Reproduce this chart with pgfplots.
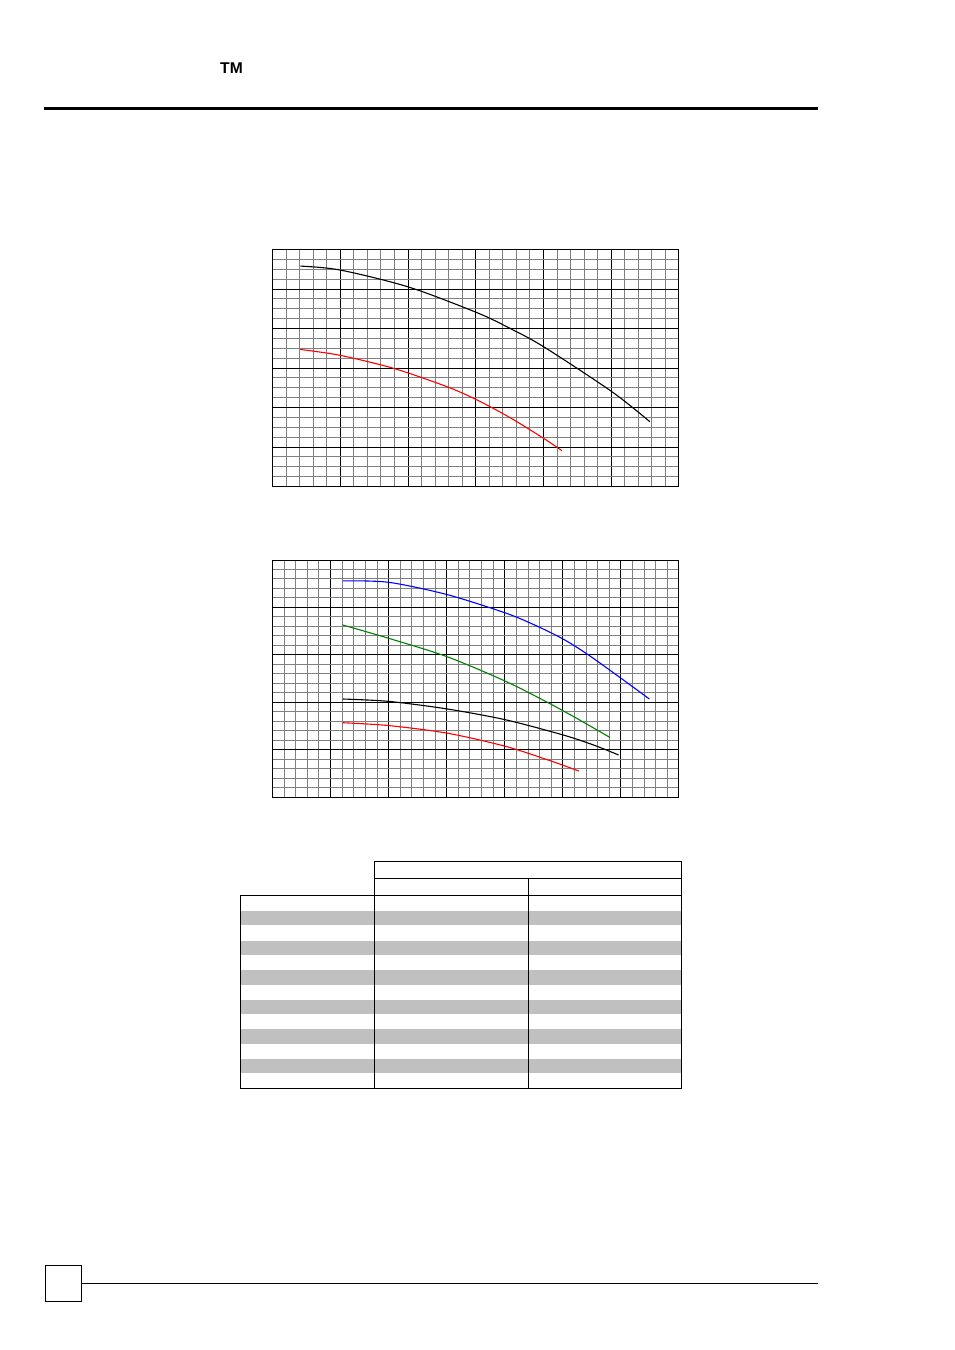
\documentclass[border=0pt]{standalone}
\usepackage{pgfplots}
\pgfplotsset{compat=1.18}
\usepackage{fontspec}
\setmainfont{Liberation Sans}

\definecolor{gridgray}{RGB}{128,128,128}
\definecolor{stripe}{RGB}{192,192,192}
\definecolor{cgreen}{RGB}{0,128,0}

\pgfplotsset{
  gridchart/.style={
    scale only axis,
    anchor=north west,
    axis line style={black, line width=0.5pt},
    xticklabels={}, yticklabels={},
    major tick length=0pt, minor tick length=0pt,
    grid=both,
    major grid style={black, line width=0.5pt},
    minor grid style={gridgray, line width=0.5pt},
    clip=true,
  },
  curve/.style={line width=0.55pt, smooth, no markers},
}

\begin{document}
\begin{tikzpicture}[x=0.5pt,y=0.5pt]
% page
\fill[white] (0,0) rectangle (954,-1350);

% header
\node[font=\fontsize{7.8}{9}\selectfont\bfseries, inner sep=0pt] at (231.5,-68) {TM};
\draw[line width=1.5pt] (44,-108) -- (818,-108);

% chart 1
\begin{axis}[gridchart,
  at={(136.25pt,-124.75pt)},
  width=203.25pt, height=118.5pt,
  xmin=0, xmax=6, ymin=0, ymax=6,
  xtick={0,...,6}, ytick={0,...,6},
  minor x tick num=4, minor y tick num=3]
\addplot[curve, black] coordinates {
  (0.41,5.58) (1.00,5.48) (2.01,5.05) (3.02,4.40) (3.51,4.00)
  (4.01,3.53) (5.01,2.40) (5.57,1.64)};
\addplot[curve, red] coordinates {
  (0.41,3.47) (1.00,3.32) (1.79,2.99) (2.57,2.53) (3.02,2.19)
  (3.51,1.74) (4.01,1.21) (4.27,0.91)};
\end{axis}

% chart 2
\begin{axis}[gridchart,
  at={(136.25pt,-280pt)},
  width=203.25pt, height=118.6pt,
  xmin=0, xmax=7, ymin=0, ymax=5,
  xtick={0,...,7}, ytick={0,...,5},
  minor x tick num=4, minor y tick num=4]
\addplot[curve, blue] coordinates {
  (1.21,4.56) (2.00,4.53) (3.01,4.27) (4.02,3.88) (4.55,3.61)
  (5.01,3.33) (5.44,3.00) (6.01,2.50) (6.49,2.07)};
\addplot[curve, cgreen] coordinates {
  (1.21,3.63) (2.00,3.35) (3.01,2.96) (4.02,2.44) (4.78,1.97)
  (5.30,1.62) (5.81,1.26)};
\addplot[curve, black] coordinates {
  (1.21,2.07) (2.00,2.02) (3.01,1.86) (4.02,1.63)
  (5.01,1.31) (5.53,1.10) (5.96,0.89)};
\addplot[curve, red] coordinates {
  (1.21,1.57) (2.00,1.51) (3.01,1.35) (4.02,1.07) (4.78,0.77)
  (5.28,0.55)};
\end{axis}

% table
\foreach \y in {911,940.6,970.2,999.8,1029.4,1059} {
  \fill[stripe] (240.7,-\y) rectangle (681.7,-\y-14.3);
}
\begin{scope}[line width=0.5pt]
\draw (374.3,-861.7) rectangle (681.7,-895);
\draw (374.3,-878.3) -- (681.7,-878.3);
\draw (240.7,-895) rectangle (681.7,-1088.3);
\draw (374.3,-895) -- (374.3,-1088.3);
\draw (528.3,-878.3) -- (528.3,-1088.3);
\end{scope}

% footer
\draw[line width=0.6pt] (45.3,-1265.3) rectangle (81.7,-1301.7);
\draw[line width=0.5pt] (81.7,-1283.3) -- (818,-1283.3);
\end{tikzpicture}
\end{document}
